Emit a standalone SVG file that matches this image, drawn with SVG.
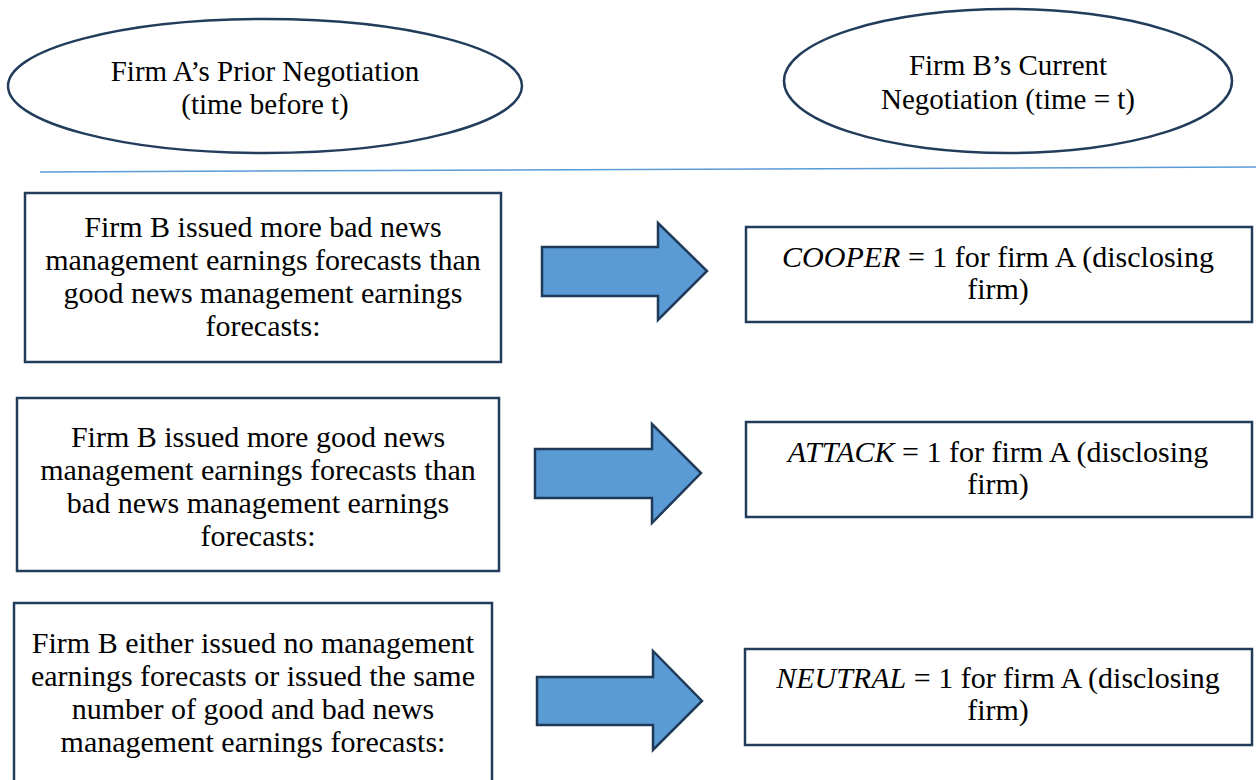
<svg xmlns="http://www.w3.org/2000/svg" width="1256" height="780" viewBox="0 0 1256 780">
  <style>
    .shape { fill: #ffffff; stroke: #223d5c; stroke-width: 2.5; }
    .arrow { fill: #5b9bd5; stroke: #1f3a58; stroke-width: 2.5; stroke-linejoin: miter; }
    .divider { stroke: #5b9bd5; stroke-width: 1.5; fill: none; }
  </style>
  <rect width="1256" height="780" fill="#ffffff"/>

  <!-- period headers -->
  <g id="prior-negotiation" text-anchor="middle">
    <ellipse class="shape" cx="265" cy="86" rx="257" ry="67"/>
    <text x="265" y="81" font-family="Liberation Serif" font-size="29">Firm A’s Prior Negotiation</text>
    <text x="265" y="114" font-family="Liberation Serif" font-size="29">(time before t)</text>
  </g>
  <g id="current-negotiation" text-anchor="middle">
    <ellipse class="shape" cx="1008" cy="81" rx="224" ry="72"/>
    <text x="1008" y="75" font-family="Liberation Serif" font-size="29">Firm B’s Current</text>
    <text x="1008" y="109" font-family="Liberation Serif" font-size="29">Negotiation (time = t)</text>
  </g>

  <line class="divider" x1="40" y1="172" x2="1256" y2="167"/>

  <!-- conditions at time before t -->
  <g id="cond-bad-news" text-anchor="middle">
    <rect class="shape" x="25" y="193" width="476" height="169"/>
    <text x="263" y="237" font-family="Liberation Serif" font-size="30">Firm B issued more bad news</text>
    <text x="263" y="270" font-family="Liberation Serif" font-size="30">management earnings forecasts than</text>
    <text x="263" y="303" font-family="Liberation Serif" font-size="30">good news management earnings</text>
    <text x="263" y="336" font-family="Liberation Serif" font-size="30">forecasts:</text>
  </g>
  <g id="cond-good-news" text-anchor="middle">
    <rect class="shape" x="17" y="398" width="482" height="173"/>
    <text x="258" y="447" font-family="Liberation Serif" font-size="30">Firm B issued more good news</text>
    <text x="258" y="480" font-family="Liberation Serif" font-size="30">management earnings forecasts than</text>
    <text x="258" y="513" font-family="Liberation Serif" font-size="30">bad news management earnings</text>
    <text x="258" y="546" font-family="Liberation Serif" font-size="30">forecasts:</text>
  </g>
  <g id="cond-none-or-equal" text-anchor="middle">
    <rect class="shape" x="14" y="603" width="478" height="200"/>
    <text x="253" y="653" font-family="Liberation Serif" font-size="30">Firm B either issued no management</text>
    <text x="253" y="686" font-family="Liberation Serif" font-size="30">earnings forecasts or issued the same</text>
    <text x="253" y="719" font-family="Liberation Serif" font-size="30">number of good and bad news</text>
    <text x="253" y="752" font-family="Liberation Serif" font-size="30">management earnings forecasts:</text>
  </g>

  <!-- outcomes at time t -->
  <g id="out-cooper" text-anchor="middle">
    <rect class="shape" x="746" y="227" width="506" height="95"/>
    <text x="998" y="267" font-family="Liberation Serif" font-size="30"><tspan font-style="italic">COOPER</tspan> = 1 for firm A (disclosing</text>
    <text x="998" y="299" font-family="Liberation Serif" font-size="30">firm)</text>
  </g>
  <g id="out-attack" text-anchor="middle">
    <rect class="shape" x="746" y="422" width="506" height="95"/>
    <text x="998" y="462" font-family="Liberation Serif" font-size="30"><tspan font-style="italic">ATTACK</tspan> = 1 for firm A (disclosing</text>
    <text x="998" y="494" font-family="Liberation Serif" font-size="30">firm)</text>
  </g>
  <g id="out-neutral" text-anchor="middle">
    <rect class="shape" x="745" y="649" width="507" height="96"/>
    <text x="998" y="688" font-family="Liberation Serif" font-size="30"><tspan font-style="italic">NEUTRAL</tspan> = 1 for firm A (disclosing</text>
    <text x="998" y="720" font-family="Liberation Serif" font-size="30">firm)</text>
  </g>

  <!-- block arrows linking each condition to its outcome -->
  <g id="connectors">
    <polygon class="arrow" points="542,247 658,247 658,223 707,271 658,320 658,296 542,296"/>
    <polygon class="arrow" points="535,449 652,449 652,424 701,473 652,523 652,498 535,498"/>
    <polygon class="arrow" points="537,677 653,677 653,651 702,701 653,750 653,725 537,725"/>
  </g>
</svg>
